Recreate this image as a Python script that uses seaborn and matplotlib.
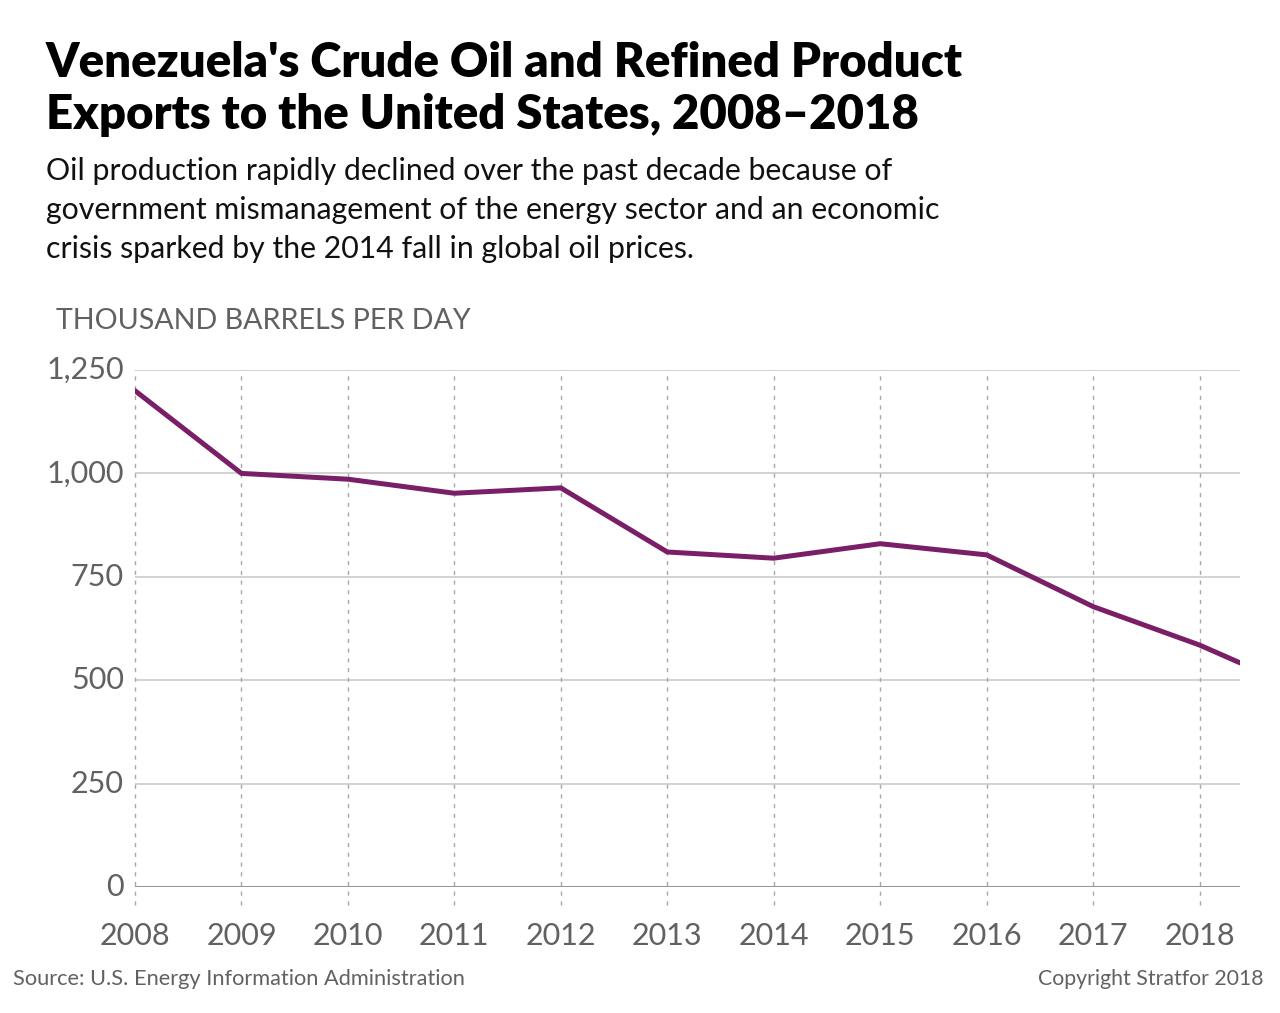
import matplotlib
matplotlib.use("Agg")
import matplotlib.pyplot as plt
import seaborn as sns
import pandas as pd

# ---- data ----
years = [2008, 2009, 2010, 2011, 2012, 2013, 2014, 2015, 2016, 2017, 2018, 2018.38]
exports = [1200, 1000, 986, 952, 965, 810, 795, 830, 803, 678, 585, 542]
x_ticks = [2008, 2009, 2010, 2011, 2012, 2013, 2014, 2015, 2016, 2017, 2018]
y_ticks = [0, 250, 500, 750, 1000, 1250]
y_tick_labels = ["0", "250", "500", "750", "1,000", "1,250"]

title = "Venezuela's Crude Oil and Refined Product\nExports to the United States, 2008\u20132018"
subtitle = ("Oil production rapidly declined over the past decade because of\n"
            "government mismanagement of the energy sector and an economic\n"
            "crisis sparked by the 2014 fall in global oil prices.")
unit_label = "THOUSAND BARRELS PER DAY"
source = "Source: U.S. Energy Information Administration"
copyright_text = "Copyright Stratfor 2018"

df = pd.DataFrame({"year": years, "value": exports})

sns.set_theme(style="white")
plt.rcParams["font.family"] = ["Lato", "DejaVu Sans"]

LINE = "#7a1f67"
GRAY = "#616161"

fig = plt.figure(figsize=(12.8, 10.13), dpi=100)
ax = fig.add_axes([135 / 1280, 1 - 887 / 1013, (1240 - 135) / 1280, (887 - 370) / 1013])

# grid
for yt in y_ticks[1:]:
    ax.axhline(yt, color="#cfcfcf", lw=1.3, zorder=1)
ax.axhline(0, color="#8a8a8a", lw=2.0, zorder=2)
for xt in x_ticks:
    ax.axvline(xt, ymin=-0.035, ymax=1.0, color="#a8a8a8", lw=1.0,
               ls=(0, (3, 4)), clip_on=False, zorder=1)

sns.lineplot(data=df, x="year", y="value", ax=ax, color=LINE, lw=3.6,
             zorder=3, solid_joinstyle="miter")

ax.set_xlim(2008, 2018.38)
ax.set_ylim(0, 1250)
ax.set_xticks(x_ticks)
ax.set_xticklabels([str(x) for x in x_ticks])
ax.set_yticks(y_ticks)
ax.set_yticklabels(y_tick_labels)
ax.tick_params(axis="both", length=0, labelsize=22, labelcolor=GRAY)
ax.tick_params(axis="x", pad=25)
ax.tick_params(axis="y", pad=8)
for lab in ax.get_yticklabels():
    lab.set_verticalalignment("center")
ax.set_xlabel("")
ax.set_ylabel("")
for s in ax.spines.values():
    s.set_visible(False)
ax.grid(False)

# texts
fig.text(46 / 1280, 1 - 41 / 1013, title, fontsize=34, fontweight="heavy",
         color="#000000", va="top", ha="left", linespacing=1.22)
fig.text(46 / 1280, 1 - 157 / 1013, subtitle, fontsize=21.8, color="#111111",
         va="top", ha="left", linespacing=1.47)
fig.text(56 / 1280, 1 - 321 / 1013, unit_label, fontsize=20.6, color=GRAY,
         va="center", ha="left")
fig.text(13 / 1280, 1 - 979 / 1013, source, fontsize=15.7, color=GRAY,
         va="center", ha="left")
fig.text(1263 / 1280, 1 - 979 / 1013, copyright_text, fontsize=15.3, color=GRAY,
         va="center", ha="right")

fig.savefig("out.png", dpi=100, facecolor="white")
